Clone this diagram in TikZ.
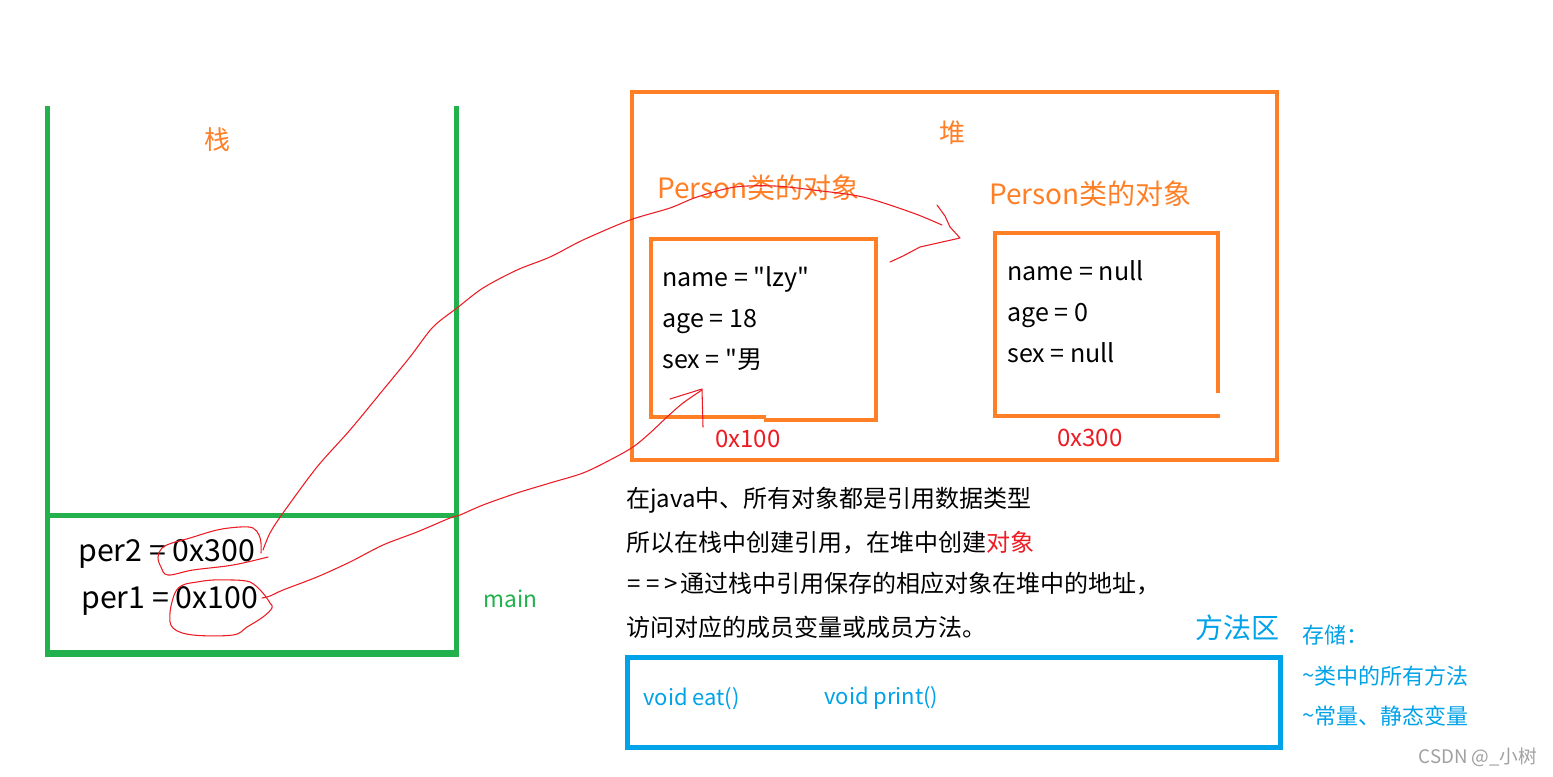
\documentclass[tikz,border=0pt]{standalone}
\usepackage{fontspec}
\setmainfont{Noto Sans CJK SC}
\newfontfamily\yh{Noto Sans CJK SC}
\definecolor{pgreen}{RGB}{34,177,76}
\definecolor{porange}{RGB}{255,127,39}
\definecolor{pred}{RGB}{237,28,36}
\definecolor{pblue}{RGB}{0,162,232}
\definecolor{pgray}{RGB}{160,160,160}
\newcommand\lh{\vphantom{男gl}}
\begin{document}
\begin{tikzpicture}[x=0.75pt,y=-0.75pt,
  txt/.style={anchor=west,inner sep=0pt},
  ctxt/.style={inner sep=0pt},
  fA/.style={font=\yh\fontsize{18pt}{20pt}\selectfont},
  fAA/.style={font=\yh\fontsize{18.8pt}{21pt}\selectfont},
  fB/.style={font=\yh\fontsize{21pt}{24pt}\selectfont},
  fC/.style={font=\yh\fontsize{16.5pt}{19pt}\selectfont},
  fD/.style={font=\yh\fontsize{19.5pt}{22pt}\selectfont},
  fP/.style={font=\yh\fontsize{22.7pt}{25pt}\selectfont},
  stackline/.style={draw=pgreen,line width=3.75pt},
  obox/.style={draw=porange,line width=3pt},
  hand/.style={draw=pred,line width=0.8pt,line cap=round,line join=round}]
\useasboundingbox (0,0) rectangle (1553,776);
\fill[white] (0,0) rectangle (1553,776);

% stack
\coordinate (sTL) at (47.5,106);
\coordinate (sTR) at (456.5,106);
\draw[stackline] (sTL) -- (47.5,656.5);
\draw[stackline] (sTR) -- (456.5,656.5);
\draw[stackline] (45,515.5) -- (459,515.5);
\draw[draw=pgreen,line width=5.25pt] (45,653) -- (459,653);
\node[ctxt,fD,text=porange] (zhan) at (217,140) {栈};
\node[txt,fP] (per2) at (78,553) {per2 = 0x300\lh};
\node[txt,fP] (per1) at (81,600) {per1 = 0x100\lh};
\node[txt,text=pgreen,font=\yh\fontsize{17pt}{19pt}\selectfont] (main) at (483,599) {main};

% heap
\draw[obox] (631.5,92) rectangle (1276.5,460);
\node[ctxt,fD,text=porange] (dui) at (952,133) {堆};
\node[txt,fB,text=porange] (lab1) at (657,188) {Person类的对象};
\node[txt,fB,text=porange] (lab2) at (989,194) {Person类的对象};

% object 1
\draw[obox] (766,417) -- (650.5,417) -- (650.5,239) -- (876,239) -- (876,349);
\draw[draw=porange,line width=2.4pt] (876,349) -- (876,420) -- (766,420) -- (766,418.5);
\node[txt,fAA] (o1a) at (662,280) {name = "lzy"\lh};
\node[txt,fAA] (o1b) at (662,321) {age = 18\lh};
\node[txt,fAA] (o1c) at (662,362) {sex = "男\lh};
\node[ctxt,fA,text=pred] (addr1) at (748,439) {0x100};

% object 2
\draw[obox] (1220,415.5) -- (995,415.5) -- (995,232.5) -- (1217.5,232.5) -- (1217.5,393);
\node[txt,fAA] (o2a) at (1007,274) {name = null\lh};
\node[txt,fAA] (o2b) at (1007,315) {age = 0\lh};
\node[txt,fAA] (o2c) at (1007,356) {sex = null\lh};
\node[ctxt,fA,text=pred] (addr2) at (1090,438) {0x300};

% explanation
\node[txt,fA] (t1) at (626,500) {在java中、所有对象都是引用数据类型};
\node[txt,fA] (t2) at (626,543) {所以在栈中创建引用，在堆中创建\textcolor{pred}{对象}};
\node[txt,fA] (t3) at (626,584) {\kern1pt=\kern4pt=\kern4pt>\kern2pt通过栈中引用保存的相应对象在堆中的地址，};
\node[txt,fA] (t4) at (626,627) {访问对应的成员变量或成员方法。};

% method area
\node[ctxt,fB,text=pblue] (ffq) at (1237,628) {方法区};
\draw[draw=pblue,line width=3.75pt] (627,657.5) rectangle (1280.5,747.5);
\node[txt,fC,text=pblue] (m1) at (643,699) {void eat()};
\node[txt,fC,text=pblue] (m2) at (824,698) {void print()};
\node[txt,fC,text=pblue] (s1) at (1302,635) {存储：};
\node[txt,fC,text=pblue] (s2) at (1302,676) {\raisebox{0.1ex}{\char"007E}类中的所有方法};
\node[txt,fC,text=pblue] (s3) at (1302,716) {\raisebox{0.1ex}{\char"007E}常量、静态变量};
\node[ctxt,text=pgray,font=\yh\fontsize{14pt}{16pt}\selectfont] (wm) at (1478,757) {CSDN @\_小树};

% hand drawn circles
\draw[hand] plot[smooth,tension=0.6] coordinates {(268,557) (233,565) (193,570) (168,575) (161,567) (158,557) (162,548) (172,543) (190,538) (217,530) (240,527) (253,528) (259,535) (261,543) (261,553)};
\draw[hand] plot[smooth,tension=0.6] coordinates {(233,580) (250,582) (262,592) (270,603) (272,608) (263,617) (247,627) (233,635) (193,635) (173,628) (170,613) (175,593) (183,585) (197,582) (213,580) (233,580)};

% hand drawn arrow per2 -> object 2
\draw[hand] plot[smooth,tension=0.5] coordinates {(263,550) (270,533) (283,513) (317,467) (350,430) (383,390) (410,357) (433,327) (457,308) (483,288) (517,270) (550,257) (583,240) (630,220) (670,208) (697,197) (735,187) (775,186) (813,190) (863,197) (913,213) (942,225)};
\draw[hand] (937,205) -- (945,216) -- (950,227) -- (960,238) -- (920,247) -- (903,256) -- (890,262);

% hand drawn arrow per1 -> object 1
\draw[hand] plot[smooth,tension=0.5] coordinates {(262,598) (270,596) (283,590) (317,577) (350,562) (383,545) (417,532) (450,518) (460,515) (483,505) (517,493) (550,483) (583,473) (610,460) (633,447) (650,433) (667,417) (683,403) (702,390)};
\draw[hand] (670,399) -- (702,389) -- (703,427);
\end{tikzpicture}
\end{document}
